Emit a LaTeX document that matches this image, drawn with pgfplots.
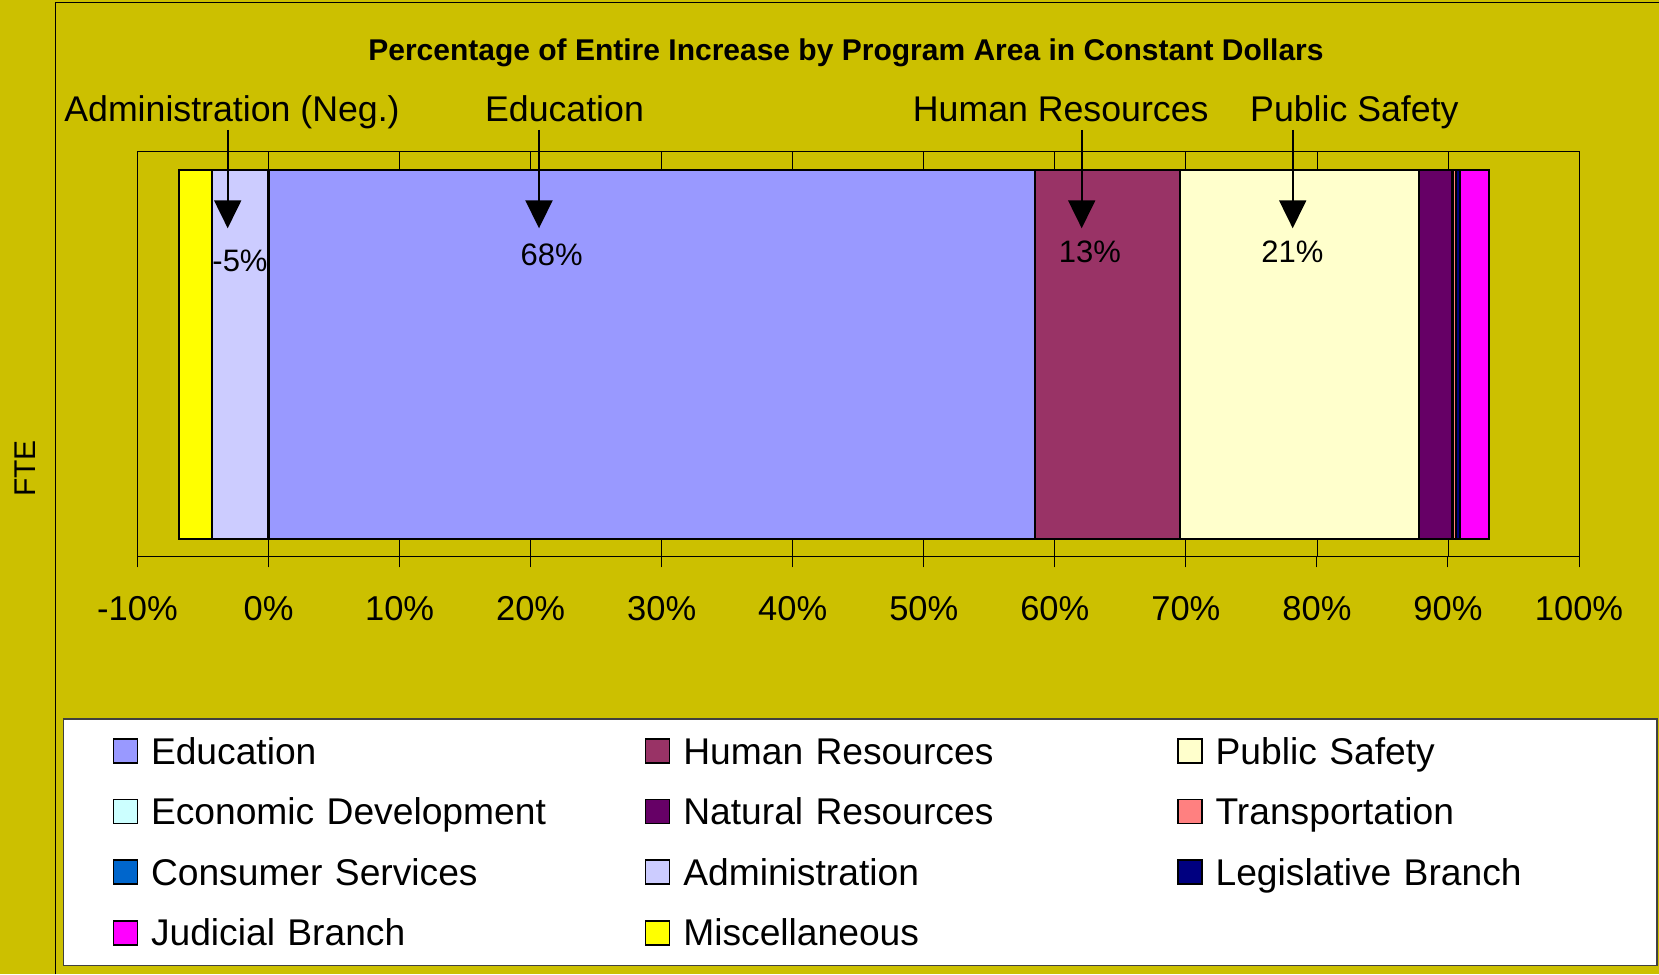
\documentclass[border=0pt]{standalone}
\usepackage{pgfplots}
\pgfplotsset{compat=1.18}
\usepackage{fontspec}
\setmainfont{Liberation Sans}
\usetikzlibrary{arrows.meta}
\definecolor{bgolive}{RGB}{204,192,0}
\definecolor{cEdu}{HTML}{9999FF}
\definecolor{cHR}{HTML}{993366}
\definecolor{cPS}{HTML}{FFFFCC}
\definecolor{cEcon}{HTML}{CCFFFF}
\definecolor{cNR}{HTML}{660066}
\definecolor{cTrans}{HTML}{FF8080}
\definecolor{cCons}{HTML}{0066CC}
\definecolor{cAdmin}{HTML}{CCCCFF}
\definecolor{cLeg}{HTML}{000080}
\definecolor{cJud}{HTML}{FF00FF}
\definecolor{cMisc}{HTML}{FFFF00}
\newcommand{\fs}[1]{\fontsize{#1bp}{#1bp}\selectfont}
\begin{document}
\begin{tikzpicture}[x=1bp,y=1bp]
\useasboundingbox (0,0) rectangle (1659,974);
\fill[bgolive] (0,0) rectangle (1659,974);
\draw[black, line width=1bp] (55,0) -- (55,971) -- (1659,971);
\draw[gray!50!black, line width=1.5bp, fill=white] (63.5,8.5) rectangle (1657,255);

\begin{axis}[
  at={(137.5bp,417bp)}, anchor=south west,
  scale only axis, width=1441.5bp, height=405.3bp,
  xmin=-10, xmax=100, ymin=-0.5, ymax=0.5,
  xbar stacked, stack negative=separate, bar width=0.911,
  axis line style={black, line width=1bp},
  xtick={-10,0,10,20,30,40,50,60,70,80,90,100},
  xticklabels={-10\%,0\%,10\%,20\%,30\%,40\%,50\%,60\%,70\%,80\%,90\%,100\%},
  ytick=\empty,
  xtick pos=left, tick align=outside, major tick length=10.5bp,
  tick style={black, line width=1bp},
  xmajorgrids, grid style={black, line width=0.8bp},
  xticklabel style={font=\fs{34.5}, anchor=base, yshift=-53bp},
  every axis plot/.append style={draw=black, line width=2.2bp},
]
\addplot[fill=cAdmin] coordinates {(-4.3,0)};
\addplot[fill=cMisc] coordinates {(-2.55,0)};
\addplot[fill=cEdu] coordinates {(58.5,0)};
\addplot[fill=cHR] coordinates {(11.05,0)};
\addplot[fill=cPS] coordinates {(18.25,0)};
\addplot[fill=cEcon] coordinates {(0,0)};
\addplot[fill=cNR] coordinates {(2.55,0)};
\addplot[fill=cTrans] coordinates {(0.25,0)};
\addplot[fill=cCons] coordinates {(0,0)};
\addplot[fill=cLeg] coordinates {(0.3,0)};
\addplot[fill=cJud] coordinates {(2.25,0)};
\end{axis}

\begin{axis}[
  at={(0bp,0bp)}, anchor=south west,
  scale only axis, width=1659bp, height=974bp,
  xmin=0, xmax=1659, ymin=0, ymax=974, hide axis,
  legend columns=3,
  legend cell align=left,
  legend style={at={(axis cs:112.3,244)}, anchor=north west, draw=none, fill=none,
    inner sep=0pt, row sep=19bp,
    nodes={inner sep=0pt, text width=493.8bp, text height=34bp, text depth=7.6bp, font=\fs{37.2}},
    /tikz/every odd column/.append style={column sep=13bp}},
  legend image code/.code={\draw[#1, line width=1.5bp] (0bp,-12bp) rectangle (24bp,12bp);},
]
\addlegendimage{fill=cEdu, draw=none}
\addlegendentry{Education}
\addlegendimage{fill=cHR, draw=black}
\addlegendentry{Human Resources}
\addlegendimage{fill=cPS, draw=black}
\addlegendentry{Public Safety}
\addlegendimage{fill=cEcon, draw=black}
\addlegendentry{Economic Development}
\addlegendimage{fill=cNR, draw=black}
\addlegendentry{Natural Resources}
\addlegendimage{fill=cTrans, draw=black}
\addlegendentry{Transportation}
\addlegendimage{fill=cCons, draw=black}
\addlegendentry{Consumer Services}
\addlegendimage{fill=cAdmin, draw=black}
\addlegendentry{Administration}
\addlegendimage{fill=cLeg, draw=black}
\addlegendentry{Legislative Branch}
\addlegendimage{fill=cJud, draw=black}
\addlegendentry{Judicial Branch}
\addlegendimage{fill=cMisc, draw=black}
\addlegendentry{Miscellaneous}
\end{axis}

% title and axis label
\node[anchor=base, font=\bfseries\fs{30}] at (846,913.3) {Percentage of Entire Increase by Program Area in Constant Dollars};
\node[rotate=90, anchor=base, font=\fs{30}] at (35,505.5) {FTE};

% callouts
\node[anchor=base, font=\fs{35.7}] at (232,852.3) {Administration (Neg.)};
\node[anchor=base, font=\fs{35.7}] at (564.5,852.3) {Education};
\node[anchor=base, font=\fs{35.7}] at (1060.7,852.3) {Human Resources};
\node[anchor=base, font=\fs{35.7}] at (1354.4,852.3) {Public Safety};
\foreach \xx in {227.7,539,1081.7,1292.7}{
  \draw[black, line width=2bp, -{Triangle[width=27bp,length=28bp]}] (\xx,844) -- (\xx,745.7);
}
\node[anchor=base, font=\fs{31}] at (240,702.3) {-5\%};
\node[anchor=base, font=\fs{31}] at (551.7,708.3) {68\%};
\node[anchor=base, font=\fs{31}] at (1090,711.3) {13\%};
\node[anchor=base, font=\fs{31}] at (1292.3,711.3) {21\%};
\end{tikzpicture}
\end{document}
